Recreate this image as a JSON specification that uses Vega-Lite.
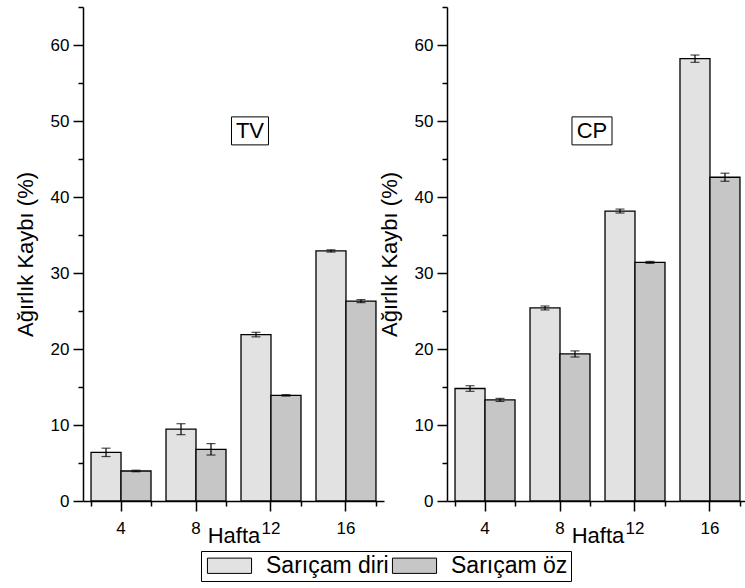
{
  "$schema": "https://vega.github.io/schema/vega-lite/v6.json",
  "padding": {"left": 14, "top": 6, "right": 0, "bottom": 0},
  "background": "white",
  "bounds": "flush",
  "spacing": 63,
  "config": {
    "font": "Liberation Sans",
    "view": {"stroke": null},
    "axis": {
      "domainColor": "black", "tickColor": "black", "domainWidth": 1.5, "tickWidth": 1.5,
      "labelColor": "black", "titleColor": "black", "labelFontSize": 17, "titleFontSize": 22,
      "titleFontWeight": "normal", "grid": false, "labelFont": "Liberation Sans", "titleFont": "Liberation Sans"
    },
    "axisY": {
      "title": "Ağırlık Kaybı (%)", "values": [0, 5, 10, 15, 20, 25, 30, 35, 40, 45, 50, 55, 60],
      "labelPadding": 4, "titlePadding": 13
    },
    "legend": {"labelFont": "Liberation Sans"}
  },
  "datasets": {
    "weights": [
      {"panel": "TV", "hafta": 4, "type": "Sarıçam diri", "value": 6.4, "lo": 5.85, "hi": 6.95},
      {"panel": "TV", "hafta": 4, "type": "Sarıçam öz", "value": 3.95, "lo": 3.85, "hi": 4.05},
      {"panel": "TV", "hafta": 8, "type": "Sarıçam diri", "value": 9.45, "lo": 8.73, "hi": 10.17},
      {"panel": "TV", "hafta": 8, "type": "Sarıçam öz", "value": 6.8, "lo": 6.05, "hi": 7.55},
      {"panel": "TV", "hafta": 12, "type": "Sarıçam diri", "value": 21.9, "lo": 21.6, "hi": 22.2},
      {"panel": "TV", "hafta": 12, "type": "Sarıçam öz", "value": 13.9, "lo": 13.8, "hi": 14.0},
      {"panel": "TV", "hafta": 16, "type": "Sarıçam diri", "value": 32.9, "lo": 32.75, "hi": 33.05},
      {"panel": "TV", "hafta": 16, "type": "Sarıçam öz", "value": 26.3, "lo": 26.1, "hi": 26.5},
      {"panel": "CP", "hafta": 4, "type": "Sarıçam diri", "value": 14.8, "lo": 14.43, "hi": 15.17},
      {"panel": "CP", "hafta": 4, "type": "Sarıçam öz", "value": 13.3, "lo": 13.1, "hi": 13.5},
      {"panel": "CP", "hafta": 8, "type": "Sarıçam diri", "value": 25.4, "lo": 25.14, "hi": 25.66},
      {"panel": "CP", "hafta": 8, "type": "Sarıçam öz", "value": 19.35, "lo": 18.95, "hi": 19.75},
      {"panel": "CP", "hafta": 12, "type": "Sarıçam diri", "value": 38.15, "lo": 37.89, "hi": 38.41},
      {"panel": "CP", "hafta": 12, "type": "Sarıçam öz", "value": 31.4, "lo": 31.27, "hi": 31.53},
      {"panel": "CP", "hafta": 16, "type": "Sarıçam diri", "value": 58.2, "lo": 57.72, "hi": 58.68},
      {"panel": "CP", "hafta": 16, "type": "Sarıçam öz", "value": 42.6, "lo": 42.07, "hi": 43.13}
    ]
  },
  "resolve": {"scale": {"fill": "shared", "y": "independent", "x": "independent"}, "legend": {"fill": "shared"}},
  "hconcat": [
    {
      "width": 301, "height": 494,
      "resolve": {"axis": {"x": "independent"}},
      "layer": [
        {
          "data": {"name": "weights"},
          "transform": [{"filter": "datum.panel === 'TV'"}],
          "mark": {"type": "bar", "stroke": "black", "strokeWidth": 1.3},
          "encoding": {
            "x": {"field": "hafta", "type": "ordinal", "scale": {"paddingInner": 0.2, "paddingOuter": 0.107},
                  "axis": {"title": "Hafta", "labelAngle": 0, "tickSize": 10, "labelPadding": 9, "titleY": 41, "titleBaseline": "alphabetic"}},
            "xOffset": {"field": "type", "type": "nominal", "sort": ["Sarıçam diri", "Sarıçam öz"], "scale": {"paddingInner": 0, "paddingOuter": 0}},
            "y": {"field": "value", "type": "quantitative", "scale": {"domain": [0, 65], "nice": false},
                  "axis": {"title": "Ağırlık Kaybı (%)",
                           "tickSize": {"condition": {"test": "datum.value % 10 === 0", "value": 10}, "value": 5},
                           "labelExpr": "datum.value % 10 === 0 ? datum.label : ''"}},
            "fill": {"field": "type", "type": "nominal", "sort": ["Sarıçam diri", "Sarıçam öz"],
                     "scale": {"domain": ["Sarıçam diri", "Sarıçam öz"], "range": ["#e2e2e2", "#c6c6c6"]},
                     "legend": {"orient": "none", "legendX": 118, "legendY": 544, "direction": "horizontal", "title": null,
                                "symbolType": "M-2.45,-0.85L2.45,-0.85L2.45,0.85L-2.45,0.85Z", "symbolSize": 324, "symbolOffset": 14,
                                "symbolStrokeColor": "black", "symbolStrokeWidth": 1, "labelFontSize": 23, "labelColor": "black",
                                "strokeColor": "black", "padding": 3, "labelOffset": 25, "columnPadding": 0}}
          }
        },
        {
          "data": {"name": "weights"},
          "transform": [{"filter": "datum.panel === 'TV'"}],
          "mark": {"type": "rule", "color": "black", "strokeWidth": 1.2},
          "encoding": {
            "x": {"field": "hafta", "type": "ordinal", "axis": {"orient": "bottom", "tickBand": "extent", "tickSize": 5, "labels": false, "domain": false, "title": null}},
            "xOffset": {"field": "type", "type": "nominal", "sort": ["Sarıçam diri", "Sarıçam öz"]},
            "y": {"field": "lo", "type": "quantitative", "title": "Ağırlık Kaybı (%)"},
            "y2": {"field": "hi"}
          }
        },
        {
          "data": {"name": "weights"},
          "transform": [{"filter": "datum.panel === 'TV'"}],
          "mark": {"type": "tick", "orient": "horizontal", "size": 9, "thickness": 1.2, "color": "black"},
          "encoding": {
            "x": {"field": "hafta", "type": "ordinal", "axis": null},
            "xOffset": {"field": "type", "type": "nominal", "sort": ["Sarıçam diri", "Sarıçam öz"]},
            "y": {"field": "lo", "type": "quantitative", "title": "Ağırlık Kaybı (%)"}
          }
        },
        {
          "data": {"name": "weights"},
          "transform": [{"filter": "datum.panel === 'TV'"}],
          "mark": {"type": "tick", "orient": "horizontal", "size": 9, "thickness": 1.2, "color": "black"},
          "encoding": {
            "x": {"field": "hafta", "type": "ordinal", "axis": null},
            "xOffset": {"field": "type", "type": "nominal", "sort": ["Sarıçam diri", "Sarıçam öz"]},
            "y": {"field": "hi", "type": "quantitative", "title": "Ağırlık Kaybı (%)"}
          }
        },
        {
          "data": {"values": [{"label": "TV"}]},
          "mark": {"type": "text", "fontSize": 22, "dx": -21, "baseline": "middle", "color": "black"},
          "encoding": {
            "x": {"datum": 12, "type": "ordinal", "axis": null},
            "y": {"datum": 48.7, "type": "quantitative", "title": "Ağırlık Kaybı (%)"},
            "text": {"field": "label"}
          }
        },
        {
          "data": {"values": [{"label": "TV"}]},
          "mark": {"type": "point", "shape": "M-1.32,-1L1.32,-1L1.32,1L-1.32,1Z", "size": 784, "filled": false, "stroke": "black", "strokeWidth": 1, "opacity": 1, "xOffset": -21},
          "encoding": {
            "x": {"datum": 12, "type": "ordinal", "axis": null},
            "y": {"datum": 48.7, "type": "quantitative", "title": "Ağırlık Kaybı (%)"}
          }
        }
      ]
    },
    {
      "width": 301, "height": 494,
      "resolve": {"axis": {"x": "independent"}},
      "layer": [
        {
          "data": {"name": "weights"},
          "transform": [{"filter": "datum.panel === 'CP'"}],
          "mark": {"type": "bar", "stroke": "black", "strokeWidth": 1.3},
          "encoding": {
            "x": {"field": "hafta", "type": "ordinal", "scale": {"paddingInner": 0.2, "paddingOuter": 0.107},
                  "axis": {"title": "Hafta", "labelAngle": 0, "tickSize": 10, "labelPadding": 9, "titleY": 41, "titleBaseline": "alphabetic"}},
            "xOffset": {"field": "type", "type": "nominal", "sort": ["Sarıçam diri", "Sarıçam öz"], "scale": {"paddingInner": 0, "paddingOuter": 0}},
            "y": {"field": "value", "type": "quantitative", "scale": {"domain": [0, 65], "nice": false},
                  "axis": {"title": "Ağırlık Kaybı (%)",
                           "tickSize": {"condition": {"test": "datum.value % 10 === 0", "value": 10}, "value": 5},
                           "labelExpr": "datum.value % 10 === 0 ? datum.label : ''"}},
            "fill": {"field": "type", "type": "nominal", "sort": ["Sarıçam diri", "Sarıçam öz"],
                     "scale": {"domain": ["Sarıçam diri", "Sarıçam öz"], "range": ["#e2e2e2", "#c6c6c6"]},
                     "legend": {"orient": "none", "legendX": 118, "legendY": 544, "direction": "horizontal", "title": null,
                                "symbolType": "M-2.45,-0.85L2.45,-0.85L2.45,0.85L-2.45,0.85Z", "symbolSize": 324, "symbolOffset": 14,
                                "symbolStrokeColor": "black", "symbolStrokeWidth": 1, "labelFontSize": 23, "labelColor": "black",
                                "strokeColor": "black", "padding": 3, "labelOffset": 25, "columnPadding": 0}}
          }
        },
        {
          "data": {"name": "weights"},
          "transform": [{"filter": "datum.panel === 'CP'"}],
          "mark": {"type": "rule", "color": "black", "strokeWidth": 1.2},
          "encoding": {
            "x": {"field": "hafta", "type": "ordinal", "axis": {"orient": "bottom", "tickBand": "extent", "tickSize": 5, "labels": false, "domain": false, "title": null}},
            "xOffset": {"field": "type", "type": "nominal", "sort": ["Sarıçam diri", "Sarıçam öz"]},
            "y": {"field": "lo", "type": "quantitative", "title": "Ağırlık Kaybı (%)"},
            "y2": {"field": "hi"}
          }
        },
        {
          "data": {"name": "weights"},
          "transform": [{"filter": "datum.panel === 'CP'"}],
          "mark": {"type": "tick", "orient": "horizontal", "size": 9, "thickness": 1.2, "color": "black"},
          "encoding": {
            "x": {"field": "hafta", "type": "ordinal", "axis": null},
            "xOffset": {"field": "type", "type": "nominal", "sort": ["Sarıçam diri", "Sarıçam öz"]},
            "y": {"field": "lo", "type": "quantitative", "title": "Ağırlık Kaybı (%)"}
          }
        },
        {
          "data": {"name": "weights"},
          "transform": [{"filter": "datum.panel === 'CP'"}],
          "mark": {"type": "tick", "orient": "horizontal", "size": 9, "thickness": 1.2, "color": "black"},
          "encoding": {
            "x": {"field": "hafta", "type": "ordinal", "axis": null},
            "xOffset": {"field": "type", "type": "nominal", "sort": ["Sarıçam diri", "Sarıçam öz"]},
            "y": {"field": "hi", "type": "quantitative", "title": "Ağırlık Kaybı (%)"}
          }
        },
        {
          "data": {"values": [{"label": "CP"}]},
          "mark": {"type": "text", "fontSize": 22, "dx": -43, "baseline": "middle", "color": "black"},
          "encoding": {
            "x": {"datum": 12, "type": "ordinal", "axis": null},
            "y": {"datum": 48.7, "type": "quantitative", "title": "Ağırlık Kaybı (%)"},
            "text": {"field": "label"}
          }
        },
        {
          "data": {"values": [{"label": "CP"}]},
          "mark": {"type": "point", "shape": "M-1.43,-1L1.43,-1L1.43,1L-1.43,1Z", "size": 784, "filled": false, "stroke": "black", "strokeWidth": 1, "opacity": 1, "xOffset": -43},
          "encoding": {
            "x": {"datum": 12, "type": "ordinal", "axis": null},
            "y": {"datum": 48.7, "type": "quantitative", "title": "Ağırlık Kaybı (%)"}
          }
        }
      ]
    }
  ]
}
